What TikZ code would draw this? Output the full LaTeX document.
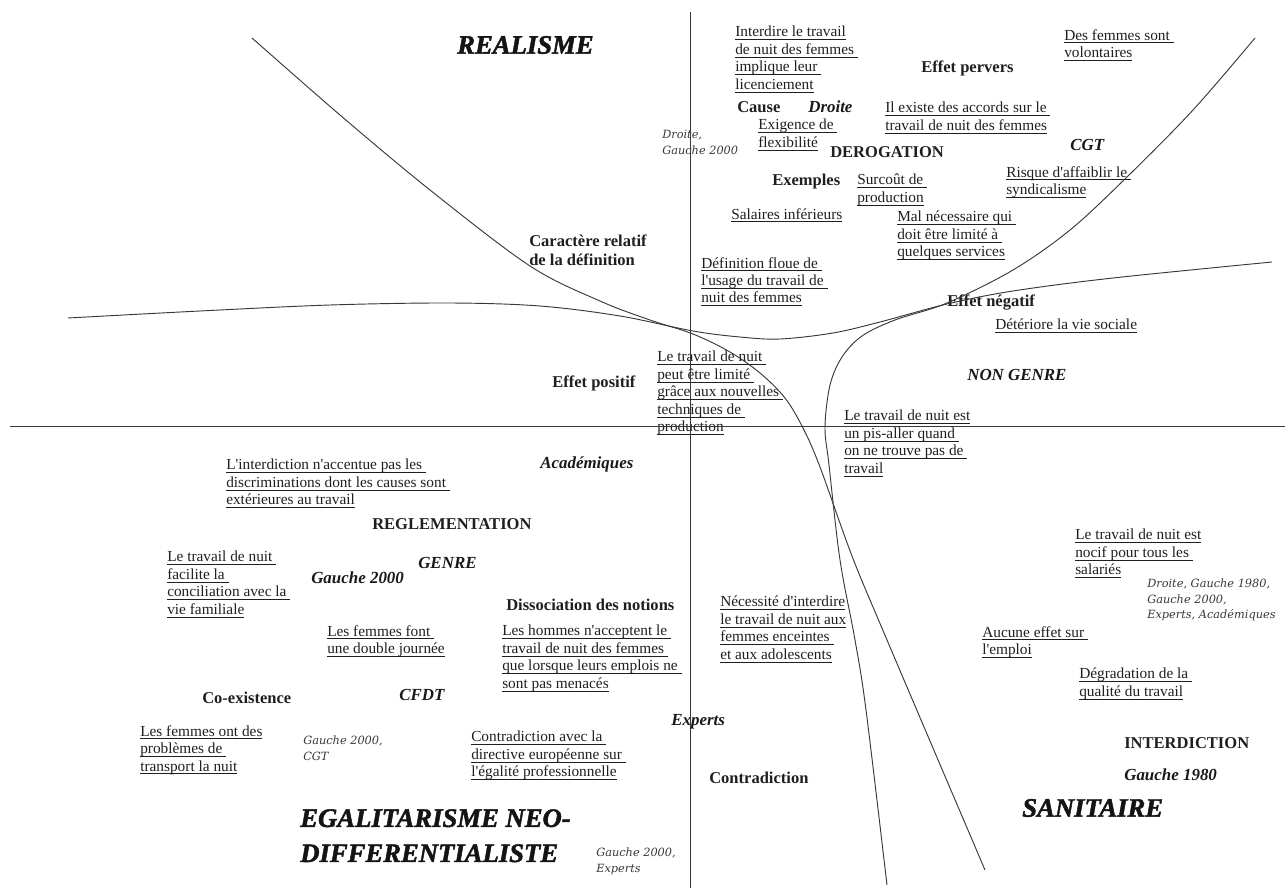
\documentclass[tikz,border=0pt]{standalone}
\usepackage{fontspec}
\setmainfont{Liberation Serif}[Ligatures=TeXOff]
\newfontfamily\srcfont{DejaVu Serif}
\newfontfamily\titlefont{Liberation Serif}[FakeBold=1.8]
\newcommand\ulx[1]{\setbox0\hbox{#1}\rlap{\rule[-2.4pt]{\wd0}{0.6pt}}\box0}
\tikzset{
  body/.style={anchor=north west, inner sep=0pt, align=left, text=black!88,
    font=\fontsize{11.5}{13.1}\selectfont},
  lab/.style={anchor=west, inner sep=0pt, text=black!88,
    font=\fontsize{12.4}{14.3}\selectfont\bfseries},
  labi/.style={anchor=west, inner sep=0pt, text=black!90,
    font=\fontsize{12.7}{14.3}\selectfont\bfseries\itshape},
  src/.style={anchor=north west, inner sep=0pt, align=left, text=black!78,
    font=\srcfont\fontsize{8.5}{11.6}\selectfont\itshape},
  ttl/.style={anchor=west, inner sep=0pt, align=left, text=black!92,
    font=\titlefont\fontsize{20}{26.3}\selectfont\bfseries\itshape},
  crv/.style={draw=black!78, line width=0.7pt},
}
\begin{document}
\begin{tikzpicture}[x=0.75pt,y=-0.75pt]
\useasboundingbox (0,0) rectangle (1285,888);
% titles
\node[ttl] (realisme) at (457,45) {REALISME};
\node[ttl] (sanitaire) at (1022,808) {SANITAIRE};
\node[ttl,anchor=north west] (egal) at (300,809) {EGALITARISME NEO-\\DIFFERENTIALISTE};
% bold labels
\node[lab] (pervers) at (921,68) {Effet pervers};
\node[lab] (cause) at (737,107) {Cause};
\node[lab] (derog) at (830,152) {DEROGATION};
\node[lab] (exemples) at (772,182) {Exemples};
\node[lab,anchor=north west,align=left] (caract) at (529,235) {Caractère relatif\\de la définition};
\node[lab] (negatif) at (947,303) {Effet négatif};
\node[lab] (positif) at (552,383) {Effet positif};
\node[lab] (regl) at (372,524) {REGLEMENTATION};
\node[lab] (dissoc) at (506,605) {Dissociation des notions};
\node[lab] (coex) at (202,698) {Co-existence};
\node[lab] (interd) at (1124,743) {INTERDICTION};
\node[lab] (contrad) at (709,778) {Contradiction};
% bold italic labels
\node[labi] (droite) at (808,107) {Droite};
\node[labi] (cgt) at (1070,145) {CGT};
\node[labi] (nongenre) at (967,375) {NON GENRE};
\node[labi] (acad) at (540,464) {Académiques};
\node[labi] (genre) at (418,563) {GENRE};
\node[labi] (g2000) at (311,578) {Gauche 2000};
\node[labi] (cfdt) at (399,695) {CFDT};
\node[labi] (experts) at (671,722) {Experts};
\node[labi] (g1980) at (1124,775) {Gauche 1980};
% sources
\node[src] (s1) at (662,130) {Droite,\\Gauche 2000};
\node[src] (s2) at (1147,579) {Droite, Gauche 1980,\\Gauche 2000,\\Experts, Académiques};
\node[src] (s3) at (303,736) {Gauche 2000,\\CGT};
\node[src] (s4) at (596,848) {Gauche 2000,\\Experts};
% underlined texts
\node[body] (t1) at (735,26) {\ulx{Interdire le travail}\\\ulx{de nuit des femmes\ }\\\ulx{implique leur\ }\\\ulx{licenciement}};
\node[body] (t2) at (1064,29) {\ulx{Des femmes sont\ }\\\ulx{volontaires}};
\node[body] (t3) at (758,119) {\ulx{Exigence de\ }\\\ulx{flexibilité}};
\node[body] (t4) at (885,102) {\ulx{Il existe des accords sur le\ }\\\ulx{travail de nuit des femmes}};
\node[body] (t5) at (857,174) {\ulx{Surcoût de\ }\\\ulx{production}};
\node[body] (t6) at (1006,166) {\ulx{Risque d'affaiblir le\ }\\\ulx{syndicalisme}};
\node[body] (t7) at (731,208) {\ulx{Salaires inférieurs}};
\node[body] (t8) at (897,211) {\ulx{Mal nécessaire qui\ }\\\ulx{doit être limité à\ }\\\ulx{quelques services}};
\node[body] (t9) at (701,257) {\ulx{Définition floue de\ }\\\ulx{l'usage du travail de\ }\\\ulx{nuit des femmes}};
\node[body] (t10) at (995,319) {\ulx{Détériore la vie sociale}};
\node[body] (t11) at (657,351) {\ulx{Le travail de nuit\ }\\\ulx{peut être limité\ }\\\ulx{grâce aux nouvelles\ }\\\ulx{techniques de\ }\\\ulx{production}};
\node[body] (t12) at (844,410) {\ulx{Le travail de nuit est}\\\ulx{un pis-aller quand\ }\\\ulx{on ne trouve pas de\ }\\\ulx{travail}};
\node[body] (t13) at (226,459) {\ulx{L'interdiction n'accentue pas les\ }\\\ulx{discriminations dont les causes sont\ }\\\ulx{extérieures au travail}};
\node[body] (t14) at (167,551) {\ulx{Le travail de nuit\ }\\\ulx{facilite la\ }\\\ulx{conciliation avec la\ }\\\ulx{vie familiale}};
\node[body] (t15) at (327,625) {\ulx{Les femmes font\ }\\\ulx{une double journée}};
\node[body] (t16) at (502,625) {\ulx{Les hommes n'acceptent le\ }\\\ulx{travail de nuit des femmes\ }\\\ulx{que lorsque leurs emplois ne\ }\\\ulx{sont pas menacés}};
\node[body] (t17) at (720,596) {\ulx{Nécessité d'interdire}\\\ulx{le travail de nuit aux}\\\ulx{femmes enceintes\ }\\\ulx{et aux adolescents}};
\node[body] (t18) at (1075,529) {\ulx{Le travail de nuit est}\\\ulx{nocif pour tous les\ }\\\ulx{salariés}};
\node[body] (t19) at (982,626) {\ulx{Aucune effet sur\ }\\\ulx{l'emploi}};
\node[body] (t20) at (1079,668) {\ulx{Dégradation de la\ }\\\ulx{qualité du travail}};
\node[body] (t21) at (140,725) {\ulx{Les femmes ont des}\\\ulx{problèmes de\ }\\\ulx{transport la nuit}};
\node[body] (t22) at (471,731) {\ulx{Contradiction avec la\ }\\\ulx{directive européenne sur\ }\\\ulx{l'égalité professionnelle}};
% axes
\draw[crv] (690,12) -- (690,888);
\draw[crv] (10,426) -- (1285,426);
% curves
\draw[crv] plot[smooth,tension=0.55] coordinates {(252,38) (340,115) (430,190) (530,266) (600,301) (650,320) (693,334) (730,352) (760,373) (785,398) (803,428) (820,467) (852,556) (887,640) (985,870)};
\draw[crv] plot[smooth,tension=0.55] coordinates {(68,318) (200,311) (330,305) (450,303) (540,306) (620,316) (693,331) (740,337) (780,339) (833,333) (880,322) (947,304) (1013,291) (1113,278) (1272,262)};
\draw[crv] plot[smooth,tension=0.55] coordinates {(1255,38) (1193,110) (1127,177) (1070,230) (1013,270) (947,303) (895,320) (862,336) (842,357) (830,385) (825,427) (829,465) (840,560) (855,640) (866,710) (887,885)};
\end{tikzpicture}
\end{document}
